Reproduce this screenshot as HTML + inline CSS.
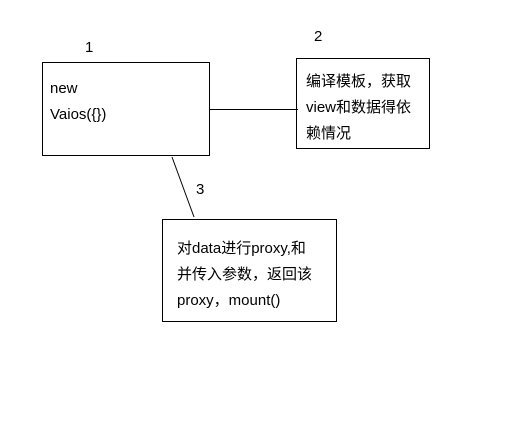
<!DOCTYPE html>
<html><head><meta charset="utf-8"><style>
body{margin:0;width:516px;height:442px;background:#fff;position:relative;overflow:hidden;font-family:"Liberation Sans","Noto Sans CJK SC",sans-serif;font-size:15px;color:#000}
.b{position:absolute;border:1px solid #000;box-sizing:border-box}
.t{position:absolute;line-height:26px;white-space:nowrap}
.n{position:absolute;font-size:15px;line-height:16px}
</style></head><body>
<svg width="516" height="442" style="position:absolute;left:0;top:0">
<line x1="209" y1="109.5" x2="298" y2="109.5" stroke="#000" stroke-width="1"/>
<line x1="172" y1="157" x2="194" y2="217" stroke="#000" stroke-width="1"/>
</svg>
<div class="b" style="left:42px;top:62px;width:168px;height:94px"></div>
<div class="b" style="left:296px;top:58px;width:134px;height:91px"></div>
<div class="b" style="left:162px;top:219px;width:175px;height:103px"></div>
<div class="n" style="left:85px;top:40px">1</div>
<div class="n" style="left:314px;top:29px">2</div>
<div class="n" style="left:196px;top:182px">3</div>
<div class="t" style="left:50px;top:76px">new<br>Vaios({})</div>
<div class="t" style="left:306px;top:69px">编译模板，获取<br>view和数据得依<br>赖情况</div>
<div class="t" style="left:177px;top:236px">对data进行proxy,和<br>并传入参数，返回该<br>proxy，mount()</div>
</body></html>
